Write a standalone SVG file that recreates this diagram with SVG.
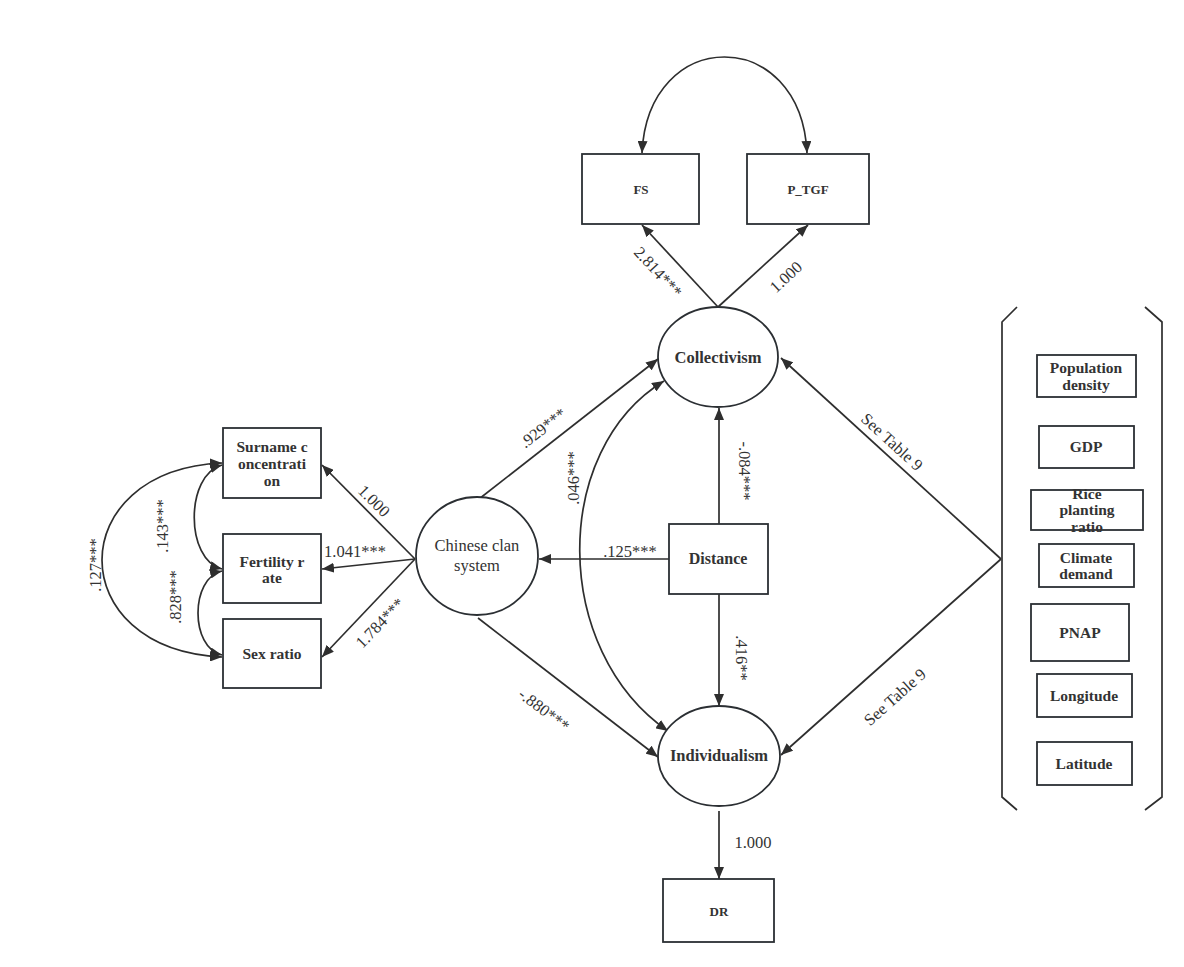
<svg xmlns="http://www.w3.org/2000/svg" width="1184" height="967" viewBox="0 0 1184 967">
<defs>
<marker id="ah" viewBox="0 0 12 10" refX="12" refY="5" markerWidth="12" markerHeight="10" markerUnits="userSpaceOnUse" orient="auto-start-reverse">
<path d="M0,0 L12,5 L0,10 z" fill="#2e2e2e"/>
</marker>
<style>
.box{fill:#fff;stroke:#2b2f33;stroke-width:1.8}
.ell{fill:#fff;stroke:#2b2f33;stroke-width:1.8}
.ln{fill:none;stroke:#2e2e2e;stroke-width:1.7}
.nt{font-family:"Liberation Serif","Times New Roman",serif;font-weight:bold;fill:#333;text-anchor:middle}
.nr{font-family:"Liberation Serif","Times New Roman",serif;fill:#333;text-anchor:middle}
.lb{font-family:"Liberation Serif","Times New Roman",serif;font-size:16.5px;fill:#333;text-anchor:middle;dominant-baseline:central}
</style>
</defs>
<rect width="1184" height="967" fill="#fff"/>

<g id="connectors">
<path class="ln" d="M642,153 C648,25 801,25 807,153" marker-start="url(#ah)" marker-end="url(#ah)"/>
<line class="ln" x1="718" y1="307" x2="642" y2="225" marker-end="url(#ah)"/>
<line class="ln" x1="718" y1="307" x2="808" y2="225" marker-end="url(#ah)"/>
<line class="ln" x1="479" y1="499" x2="658" y2="359" marker-end="url(#ah)"/>
<line class="ln" x1="478" y1="618" x2="658" y2="757" marker-end="url(#ah)"/>
<path class="ln" d="M664,381 C551,450 551,650 668,731" marker-start="url(#ah)" marker-end="url(#ah)"/>
<line class="ln" x1="719" y1="524" x2="719" y2="408" marker-end="url(#ah)"/>
<line class="ln" x1="719" y1="594" x2="719" y2="706" marker-end="url(#ah)"/>
<line class="ln" x1="669" y1="559" x2="539" y2="559" marker-end="url(#ah)"/>
<line class="ln" x1="719" y1="811" x2="719" y2="879" marker-end="url(#ah)"/>
<line class="ln" x1="415" y1="559" x2="322" y2="465" marker-end="url(#ah)"/>
<line class="ln" x1="415" y1="559" x2="322" y2="569" marker-end="url(#ah)"/>
<line class="ln" x1="415" y1="559" x2="322" y2="657" marker-end="url(#ah)"/>
<path class="ln" d="M222,465 C185,475 185,560 222,569" marker-start="url(#ah)" marker-end="url(#ah)"/>
<path class="ln" d="M222,571 C190,578 190,648 222,655" marker-start="url(#ah)" marker-end="url(#ah)"/>
<path class="ln" d="M222,463 C62,470 62,650 222,657" marker-start="url(#ah)" marker-end="url(#ah)"/>
<line class="ln" x1="1001" y1="559" x2="781" y2="358" marker-end="url(#ah)"/>
<line class="ln" x1="1001" y1="559" x2="781" y2="755" marker-end="url(#ah)"/>

<text class="lb" transform="translate(658,272) rotate(47.5)">2.814***</text>
<text class="lb" transform="translate(786,277) rotate(-42.7)">1.000</text>
<text class="lb" transform="translate(543,428) rotate(-38)">.929***</text>
<text class="lb" transform="translate(544,710) rotate(37.7)">-.880***</text>
<text class="lb" transform="translate(573,478) rotate(-90)">.046***</text>
<text class="lb" transform="translate(744,471) rotate(90)">-.084***</text>
<text class="lb" transform="translate(741,658) rotate(90)">.416**</text>
<text class="lb" transform="translate(630,551)">.125***</text>
<text class="lb" transform="translate(753,842)">1.000</text>
<text class="lb" transform="translate(374,501) rotate(45)">1.000</text>
<text class="lb" transform="translate(355,551)">1.041***</text>
<text class="lb" transform="translate(380,623) rotate(-46)">1.784***</text>
<text class="lb" transform="translate(162,526) rotate(-90)">.143***</text>
<text class="lb" transform="translate(175,597) rotate(-90)">.828***</text>
<text class="lb" transform="translate(95,565) rotate(-90)">.127***</text>
<text class="lb" transform="translate(892,442) rotate(42.4)">See Table 9</text>
<text class="lb" transform="translate(895,697) rotate(-41.7)">See Table 9</text>
</g>

<g id="FS"><rect class="box" x="582" y="154" width="117" height="70"/><text class="nt" x="641" y="194" font-size="13">FS</text></g>
<g id="P_TGF"><rect class="box" x="747" y="154" width="122" height="70"/><text class="nt" x="808" y="194" font-size="13">P_TGF</text></g>
<g id="Collectivism"><ellipse class="ell" cx="718" cy="357" rx="60" ry="50"/><text class="nt" x="718" y="363" font-size="16.5">Collectivism</text></g>
<g id="Individualism"><ellipse class="ell" cx="719" cy="756" rx="61" ry="50"/><text class="nt" x="719" y="761" font-size="16.5">Individualism</text></g>
<g id="Clan"><ellipse class="ell" cx="477" cy="556" rx="61" ry="59"/><text class="nr" x="477" y="551" font-size="16.5">Chinese clan</text><text class="nr" x="477" y="571" font-size="16.5">system</text></g>
<g id="Distance"><rect class="box" x="669" y="524" width="99" height="70"/><text class="nt" x="718" y="564" font-size="16">Distance</text></g>
<g id="DR"><rect class="box" x="663" y="879" width="111" height="63"/><text class="nt" x="719" y="916" font-size="13">DR</text></g>

<g id="Surname"><rect class="box" x="223" y="428" width="98" height="70"/><text class="nt" x="272" y="452" font-size="15.5">Surname c</text><text class="nt" x="272" y="469" font-size="15.5">oncentrati</text><text class="nt" x="272" y="486" font-size="15.5">on</text></g>
<g id="Fertility"><rect class="box" x="223" y="534" width="98" height="69"/><text class="nt" x="272" y="567" font-size="15.5">Fertility r</text><text class="nt" x="272" y="583" font-size="15.5">ate</text></g>
<g id="SexRatio"><rect class="box" x="223" y="619" width="98" height="69"/><text class="nt" x="272" y="659" font-size="15.5">Sex ratio</text></g>

<g id="ControlPanel">
<path class="ln" d="M1017,307 L1002,322 L1002,797 L1017,810 M1145,307 L1162,322 L1162,797 L1145,810" stroke="#2b2f33" stroke-width="1.8"/>
</g>
<g id="PopDensity"><rect class="box" x="1037" y="355" width="99" height="42"/><text class="nt" x="1086" y="373" font-size="15.5">Population</text><text class="nt" x="1086" y="390" font-size="15.5">density</text></g>
<g id="GDP"><rect class="box" x="1039" y="426" width="95" height="42"/><text class="nt" x="1086" y="452" font-size="15.5">GDP</text></g>
<g id="Rice"><rect class="box" x="1031" y="490" width="112" height="40"/><text class="nt" x="1087" y="499" font-size="15.5">Rice</text><text class="nt" x="1087" y="515" font-size="15.5">planting</text><text class="nt" x="1087" y="532" font-size="15.5">ratio</text></g>
<g id="Climate"><rect class="box" x="1039" y="544" width="95" height="43"/><text class="nt" x="1086" y="563" font-size="15.5">Climate</text><text class="nt" x="1086" y="579" font-size="15.5">demand</text></g>
<g id="PNAP"><rect class="box" x="1031" y="604" width="98" height="57"/><text class="nt" x="1080" y="638" font-size="15.5">PNAP</text></g>
<g id="Longitude"><rect class="box" x="1037" y="674" width="95" height="43"/><text class="nt" x="1084" y="701" font-size="15.5">Longitude</text></g>
<g id="Latitude"><rect class="box" x="1037" y="742" width="95" height="43"/><text class="nt" x="1084" y="769" font-size="15.5">Latitude</text></g>
</svg>
